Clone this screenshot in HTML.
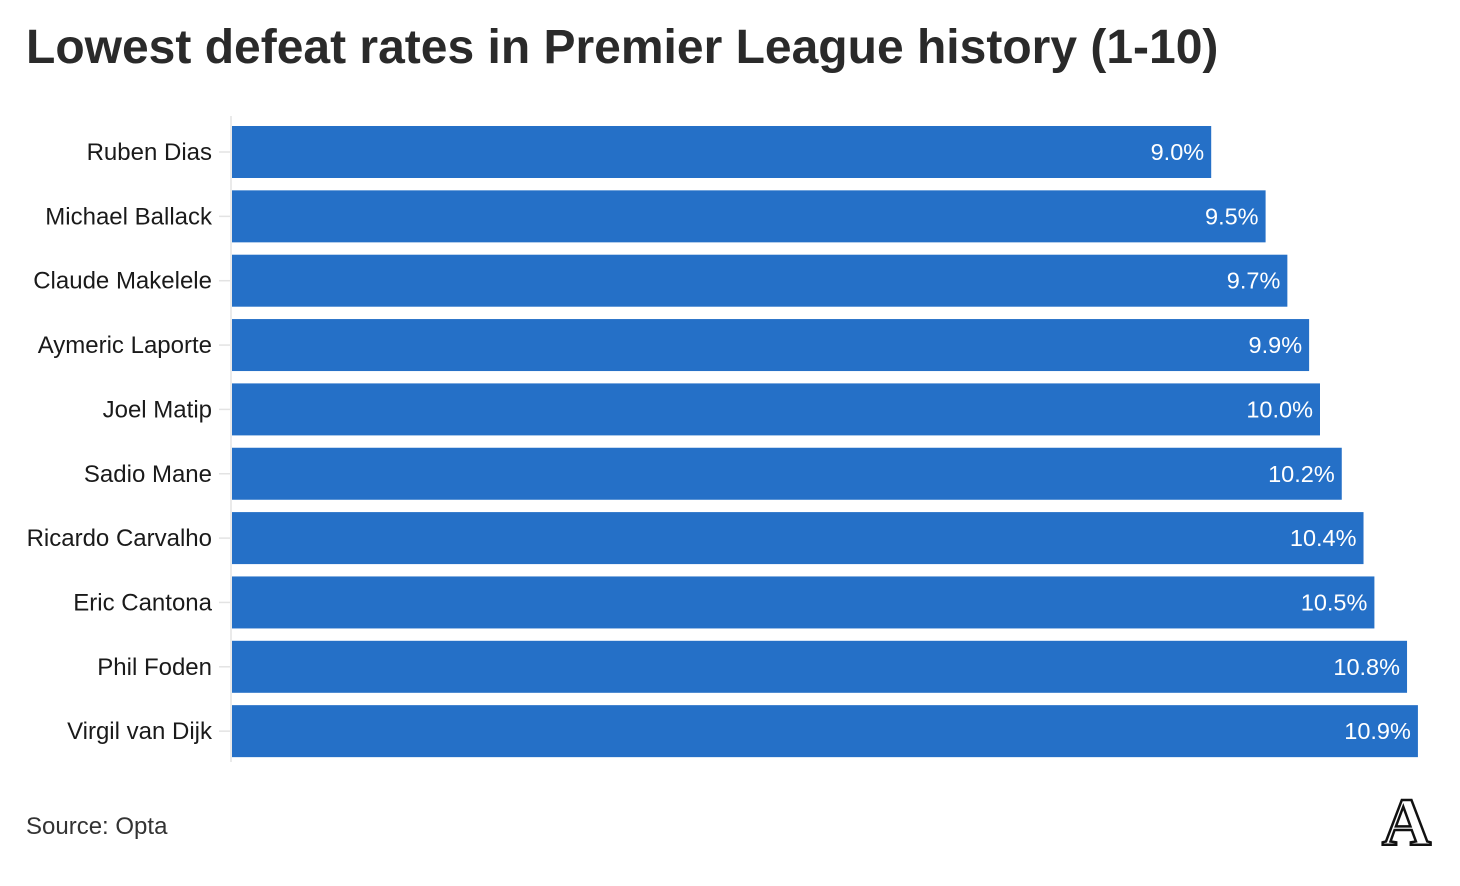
<!DOCTYPE html>
<html><head><meta charset="utf-8"><style>
body{margin:0;width:1460px;height:886px;background:#fff;font-family:"Liberation Sans",sans-serif;overflow:hidden;position:relative}
#title{position:absolute;left:26px;top:20px;font-size:48px;font-weight:bold;color:#2a2a2a;letter-spacing:0;margin:0}
#src{position:absolute;left:26px;top:813px;font-size:24px;color:#333}
#logo{position:absolute;left:1382px;top:788px;font-family:"Liberation Serif",serif;font-size:68px;font-weight:bold;color:#fff;-webkit-text-stroke:2.5px #111;line-height:1}
</style></head><body>
<h1 id="title">Lowest defeat rates in Premier League history (1-10)</h1>
<svg id="chart" width="1460" height="886" style="position:absolute;left:0;top:0"></svg>
<div id="src">Source: Opta</div>
<div id="logo">A</div>
<script>
const players=["Ruben Dias","Michael Ballack","Claude Makelele","Aymeric Laporte","Joel Matip","Sadio Mane","Ricardo Carvalho","Eric Cantona","Phil Foden","Virgil van Dijk"];
const rates=[9.0,9.5,9.7,9.9,10.0,10.2,10.4,10.5,10.8,10.9];
const labels=["9.0%","9.5%","9.7%","9.9%","10.0%","10.2%","10.4%","10.5%","10.8%","10.9%"];
const NS="http://www.w3.org/2000/svg";
const svg=document.getElementById('chart');
const x0=232,pxPer=108.8,top0=126,step=64.35,bh=52;
const xs=v=>x0+v*pxPer;
const ys=i=>top0+i*step;
function mk(t,a){const e=document.createElementNS(NS,t);for(const k in a)e.setAttribute(k,a[k]);svg.appendChild(e);return e;}
const ax=mk('line',{x1:231,x2:231,y1:116,y2:762,stroke:'#e3e3e3','stroke-width':1.5});


players.forEach((p,i)=>{
  const y=ys(i);
  const tk=mk('line',{x1:219,x2:230,y1:y+bh/2,y2:y+bh/2,stroke:'#e3e3e3','stroke-width':1.5});
  
  
  const r=mk('rect',{x:x0,y:y,width:xs(rates[i])-x0,height:bh,fill:'#2570c7'});
  
  
  const l=mk('text',{x:212,y:y+bh/2+8,'text-anchor':'end','font-size':24,fill:'#1a1a1a','font-family':'Liberation Sans, sans-serif'});
  l.textContent=p;
  
  
  const v=mk('text',{x:xs(rates[i])-7,y:y+bh/2+8,'text-anchor':'end','font-size':23.5,fill:'#fff','font-family':'Liberation Sans, sans-serif'});
  v.textContent=labels[i];
  
  
});
</script>
</body></html>
